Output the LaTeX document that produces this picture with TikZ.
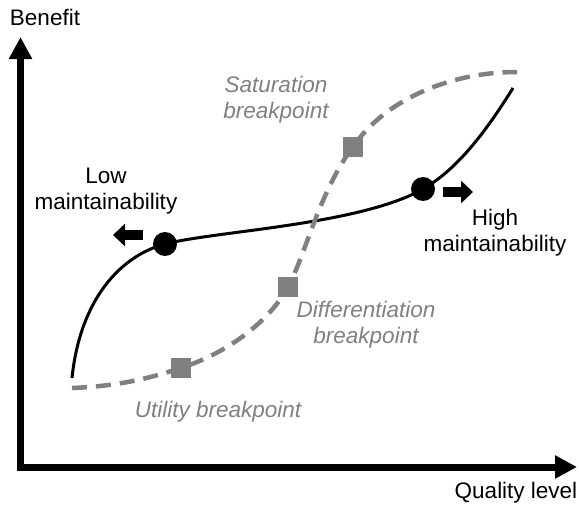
\documentclass[tikz,border=0pt]{standalone}
\usepackage{fontspec}
\setmainfont{Liberation Sans}
\usetikzlibrary{arrows.meta}
\definecolor{bpgray}{RGB}{128,128,128}
\begin{document}
\begin{tikzpicture}[x=1pt, y=-1pt,
        axis/.style={line width=7pt, {Triangle[length=22pt,width=22pt]}-{Triangle[length=22pt,width=22pt]}},
        fatarrow/.style={line width=10pt, -{Triangle[length=12pt,width=22pt]}},
        maincurve/.style={line width=3pt},
        bpcurve/.style={line width=4.5pt, bpgray, dash pattern=on 15pt off 9pt},
        dot/.style={circle, fill, inner sep=0pt, minimum size=24pt},
        bpmark/.style={rectangle, fill=bpgray, inner sep=0pt, minimum size=20pt},
        every node/.style={font=\fontsize{22.5}{26}\selectfont, align=center},
        bplabel/.style={text=bpgray, font=\fontsize{22.5}{26}\selectfont\itshape}]
    \useasboundingbox (0,0) rectangle (579,506);
    % axes
    \coordinate (origin) at (20.5,467);
    \coordinate (ytip) at (20.5,37);
    \coordinate (xtip) at (577,467);
    \draw[axis] (ytip) -- (origin) -- (xtip);
    \node (benefit) at (45,17) {Benefit};
    \node (quality) at (516,493) {Quality level};
    % points on the curves
    \node[dot] (lowdot) at (165,244) {};
    \node[dot] (highdot) at (423,189) {};
    \node[bpmark] (utilmark) at (181,368) {};
    \node[bpmark] (diffmark) at (288,287) {};
    \node[bpmark] (satmark) at (353,147) {};
    \coordinate (mstart) at (72,378);
    \coordinate (mend) at (513,88);
    \coordinate (dstart) at (72,388);
    \coordinate (dend) at (517,72);
    % maintainability curve
    \draw[maincurve] (mstart) .. controls +(8,-78) and +(-45,12) .. (lowdot.center)
        .. controls +(50,-13) and +(-63,36) .. (highdot.center)
        .. controls +(37,-21) and +(-23,37) .. (mend);
    % breakpoint curve
    \draw[bpcurve] (dstart) .. controls +(48,-2) and +(-31,10) .. (utilmark.center)
        .. controls +(49,-16) and +(-18,33) .. (diffmark.center)
        .. controls +(17,-31) and +(-33,43) .. (satmark.center)
        .. controls +(30,-45) and +(-70,0) .. (dend);
    % labels
    \node (low) at (106,191) {Low\\maintainability};
    \node (high) at (495,233) {High\\maintainability};
    \node[bplabel] (sat) at (276,100) {Saturation\\breakpoint};
    \node[bplabel] (diff) at (366,325) {Differentiation\\breakpoint};
    \node[bplabel] (util) at (218,412) {Utility breakpoint};
    % direction arrows
    \coordinate (lowarr) at (143,235);
    \coordinate (higharr) at (443,192);
    \draw[fatarrow] (lowarr) -- ++(-30,0);
    \draw[fatarrow] (higharr) -- ++(30,0);
\end{tikzpicture}
\end{document}
